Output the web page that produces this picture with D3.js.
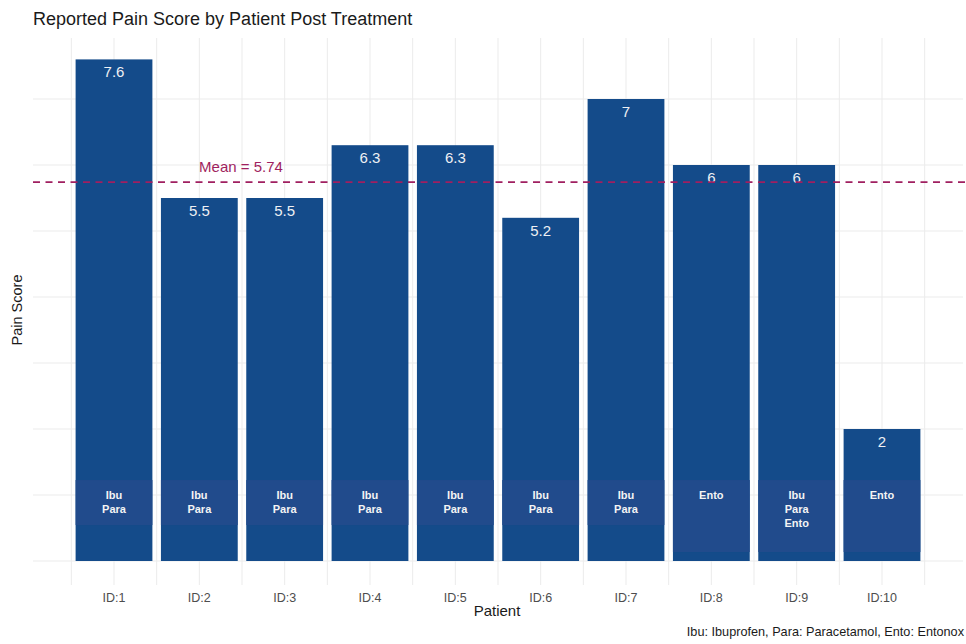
<!DOCTYPE html>
<html><head><meta charset="utf-8">
<script src="https://cdn.jsdelivr.net/npm/d3@7"></script>
<style>body{margin:0;background:#fff;} svg{display:block;font-family:"Liberation Sans",Arial,sans-serif;}</style>
</head><body>
<svg id="c" width="966" height="644"></svg>
<script>
const patients = ["ID:1","ID:2","ID:3","ID:4","ID:5","ID:6","ID:7","ID:8","ID:9","ID:10"];
const painScores = [7.6, 5.5, 5.5, 6.3, 6.3, 5.2, 7, 6, 6, 2];
const treatments = [["Ibu","Para"],["Ibu","Para"],["Ibu","Para"],["Ibu","Para"],["Ibu","Para"],["Ibu","Para"],["Ibu","Para"],["Ento"],["Ibu","Para","Ento"],["Ento"]];
const gridValues = [0,1,2,3,4,5,6,7];
const titleText = "Reported Pain Score by Patient Post Treatment";
const captionText = "Ibu: Ibuprofen, Para: Paracetamol, Ento: Entonox";

const svg = d3.select("#c");
const x = d3.scalePoint().domain(patients).range([114, 882]);
const step = x.step();
const y = d3.scaleLinear().domain([0, 8]).range([561, 33]);
const mean = d3.mean(painScores);

const barCol = "#144b8a", boxCol = "#214b8c", meanCol = "#a01f60", gridCol = "#ebebeb";

// horizontal grid
svg.append("g").selectAll("line").data(gridValues).join("line")
  .attr("x1", 33).attr("x2", 963).attr("y1", d => y(d)).attr("y2", d => y(d))
  .attr("stroke", gridCol).attr("stroke-width", 1);
// vertical grid (centers and midpoints)
const vx = [];
patients.forEach(p => { vx.push(x(p) - step/2); vx.push(x(p)); });
vx.push(x(patients[patients.length-1]) + step/2);
svg.append("g").selectAll("line").data(vx).join("line")
  .attr("x1", d => d).attr("x2", d => d).attr("y1", 38).attr("y2", 585)
  .attr("stroke", gridCol).attr("stroke-width", 1);

const bw = step * 0.9;
const data = patients.map((p, i) => ({p, v: painScores[i], t: treatments[i]}));

// bars
svg.append("g").selectAll("rect").data(data).join("rect")
  .attr("x", d => x(d.p) - bw/2).attr("width", bw)
  .attr("y", d => y(d.v)).attr("height", d => y(0) - y(d.v))
  .attr("fill", barCol);

// treatment boxes
const boxTop = 1.227, boxBot2 = 0.545, boxBotOther = 0.136;
svg.append("g").selectAll("rect").data(data).join("rect")
  .attr("x", d => x(d.p) - bw/2).attr("width", bw)
  .attr("y", y(boxTop))
  .attr("height", d => y(d.t.length === 2 ? boxBot2 : boxBotOther) - y(boxTop))
  .attr("fill", boxCol);

// treatment text
const tg = svg.append("g");
data.forEach(d => {
  const t = tg.append("text").attr("x", x(d.p)).attr("y", y(boxTop) + 19)
    .attr("text-anchor", "middle").attr("fill", "#f4f4f4")
    .attr("font-size", 11).attr("font-weight", "bold");
  d.t.forEach((s, j) => t.append("tspan").attr("x", x(d.p)).attr("dy", j === 0 ? 0 : 14).text(s));
});

// value labels
svg.append("g").selectAll("text").data(data).join("text")
  .attr("x", d => x(d.p)).attr("y", d => y(d.v) + 18)
  .attr("text-anchor", "middle").attr("fill", "#eef0f4").attr("font-size", 15)
  .text(d => d3.format("~g")(d.v));

// mean line
svg.append("line").attr("x1", 33).attr("x2", 966).attr("y1", y(mean)).attr("y2", y(mean))
  .attr("stroke", meanCol).attr("stroke-width", 1.6).attr("stroke-dasharray", "7,5.5");
svg.append("text").attr("x", 241).attr("y", y(mean) - 10).attr("text-anchor", "middle")
  .attr("fill", meanCol).attr("font-size", 15).text("Mean = " + d3.format(".2f")(mean));

// x tick labels
svg.append("g").selectAll("text").data(patients).join("text")
  .attr("x", d => x(d)).attr("y", 602).attr("text-anchor", "middle")
  .attr("fill", "#4d4d4d").attr("font-size", 12.5).text(d => d);

// titles
svg.append("text").attr("x", 33).attr("y", 25).attr("font-size", 18).attr("fill", "#1a1a1a").text(titleText);
svg.append("text").attr("x", 497).attr("y", 616).attr("text-anchor", "middle").attr("font-size", 15).attr("fill", "#1a1a1a").text("Patient");
svg.append("text").attr("transform", "translate(22,310) rotate(-90)").attr("text-anchor", "middle").attr("font-size", 14.5).attr("fill", "#1a1a1a").text("Pain Score");
svg.append("text").attr("x", 964).attr("y", 636).attr("text-anchor", "end").attr("font-size", 12.7).attr("fill", "#1a1a1a").text(captionText);
</script>
</body></html>
